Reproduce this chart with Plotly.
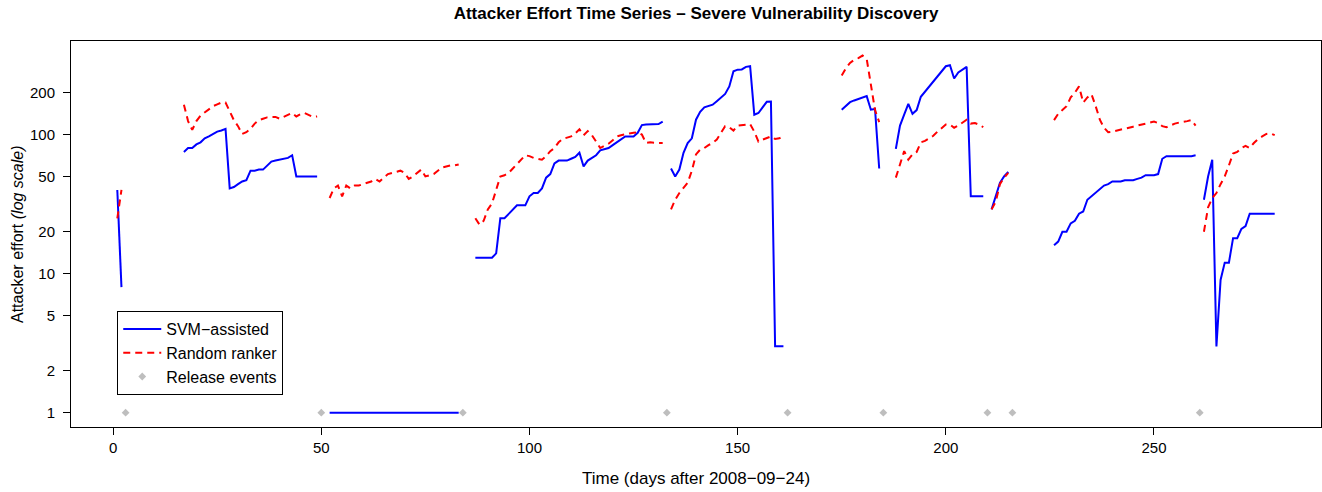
import plotly.graph_objs as go

# attacker effort per day, one list per contiguous run of days
svm_starts = [1, 17, 52, 87, 134, 175, 188, 211, 226, 262]
svm_values = [
    [40, 8],
    [75, 80, 80, 85, 88, 94, 97, 101, 105, 107, 110, 41, 42, 44, 46, 47, 55, 55, 56, 56,
     60, 64, 65, 66, 67, 68, 71, 50, 50, 50, 50, 50, 50],
    [1, 1, 1, 1, 1, 1, 1, 1, 1, 1, 1, 1, 1, 1, 1, 1, 1, 1, 1, 1, 1, 1, 1, 1, 1, 1, 1, 1,
     1, 1, 1, 1],
    [13, 13, 13, 13, 13, 14, 25, 25, 27, 29, 31, 31, 31, 36, 38, 38, 41, 49, 52, 62, 65,
     65, 65, 67, 69, 74, 59, 65, 68, 71, 77, 79, 80, 84, 88, 93, 97, 97, 97, 103, 117,
     118, 118, 119, 119, 124],
    [57, 50, 56, 74, 87, 94, 128, 146, 157, 161, 164, 174, 184, 196, 222, 285, 293, 294,
     307, 310, 139, 143, 157, 172, 173, 3, 3, 3],
    [151, 161, 171, 176, 181, 185, 189, 151, 153, 57],
    [79, 116, 139, 166, 141, 150, 187, 203, 220, 241, 263, 285, 310, 315, 253, 280, 295,
     307, 36, 36, 36, 36],
    [29, 36, 45, 50, 54],
    [16, 17, 20, 20, 23, 24, 27, 28, 34, 36, 38, 40, 43, 44, 46, 46, 46, 47, 47, 47, 48,
     49, 51, 51, 51, 52, 67, 70, 70, 70, 70, 70, 70, 70, 71],
    [34, 50, 66, 3, 9, 12, 12, 18, 18, 21, 22, 27, 27, 27, 27, 27, 27, 27],
]

rnd_starts = [1, 17, 52, 87, 134, 175, 188, 211, 226, 262]
rnd_values = [
    [25, 40],
    [164, 125, 108, 125, 137, 145, 152, 160, 165, 170, 170, 145, 127, 115, 101, 104, 110,
     120, 127, 130, 133, 134, 134, 130, 134, 138, 143, 135, 140, 143, 138, 134, 135],
    [35, 41, 43, 36, 43, 41, 43, 43, 44, 45, 46, 48, 46, 49, 52, 53, 54, 55, 53, 48, 50,
     53, 56, 50, 51, 52, 55, 58, 59, 60, 60, 61],
    [25, 22.5, 24, 29, 32, 40, 50, 51, 53, 57, 61, 66, 71, 70, 68, 67, 66, 70, 76, 80, 88,
     93, 95, 97, 102, 109, 99, 106, 99, 88, 80, 83, 86, 91, 97, 99, 101, 102, 103, 104,
     100, 87, 88, 87, 87, 87],
    [29, 34, 38, 41, 45, 55, 72, 78, 80, 84, 87, 92, 103, 115, 113, 107, 116, 117, 118,
     119, 105, 89, 92, 95, 97, 93, 94, 97],
    [266, 300, 328, 345, 355, 370, 350, 235, 150, 123],
    [49, 61, 76, 66, 72, 75, 88, 90, 94, 98, 105, 112, 118, 118, 112, 116, 122, 128, 120,
     121, 118, 113],
    [29, 33, 44, 49, 53],
    [127, 141, 150, 160, 185, 200, 222, 170, 185, 195, 160, 128, 112, 104, 105, 107, 109,
     110, 112, 114, 116, 118, 120, 122, 124, 121, 115, 113, 117, 120, 122, 123, 125, 127,
     116],
    [20, 30, 35, 38, 44, 50, 60, 73, 75, 80, 83, 80, 87, 93, 97, 101, 102, 99],
]

release_days = [3, 50, 84, 133, 162, 185, 210, 216, 261]
release_level = [1, 1, 1, 1, 1, 1, 1, 1, 1]

y_ticks = [1, 2, 5, 10, 20, 50, 100, 200]
x_ticks = [0, 50, 100, 150, 200, 250]


def join_runs(starts, runs):
    """Flatten runs of daily values into x/y with gaps between runs."""
    xs, ys = [], []
    for start, vals in zip(starts, runs):
        if xs:
            xs.append(None)
            ys.append(None)
        xs.extend(range(start, start + len(vals)))
        ys.extend(vals)
    return xs, ys


svm_x, svm_y = join_runs(svm_starts, svm_values)
rnd_x, rnd_y = join_runs(rnd_starts, rnd_values)

FONT = "Liberation Sans, Arial, Helvetica, sans-serif"
W, H = 1322, 492

fig = go.Figure()

fig.add_trace(
    go.Scatter(
        x=svm_x, y=svm_y, mode="lines", name="SVM\u2212assisted",
        line=dict(color="#0000FF", width=2),
    )
)
fig.add_trace(
    go.Scatter(
        x=rnd_x, y=rnd_y, mode="lines", name="Random ranker",
        line=dict(color="#FF0000", width=2, dash="7px,5px"),
    )
)
fig.add_trace(
    go.Scatter(
        x=release_days, y=release_level, mode="markers", name="Release events",
        marker=dict(symbol="diamond", color="#BEBEBE", size=6),
    )
)

fig.update_layout(
    width=W,
    height=H,
    autosize=False,
    margin=dict(l=71, r=1, t=41, b=65, autoexpand=False),
    paper_bgcolor="white",
    plot_bgcolor="white",
    font=dict(family=FONT, size=15, color="black"),
    title=dict(
        text="<b>Attacker Effort Time Series \u2013 Severe Vulnerability Discovery</b>",
        font=dict(family=FONT, size=17, color="black"),
        x=0.5, xref="paper", xanchor="center",
        y=1 - 13 / H, yref="container", yanchor="middle",
    ),
    xaxis=dict(
        range=[-10.12, 290.12],
        tickvals=x_ticks,
        ticks="outside", ticklen=7, tickcolor="black",
        showline=True, linecolor="black", linewidth=1, mirror=True,
        showgrid=False, zeroline=False, automargin=False,
        tickfont=dict(size=15),
    ),
    yaxis=dict(
        type="log",
        range=[-0.1028, 2.673],
        tickvals=y_ticks,
        ticktext=[str(v) for v in y_ticks],
        ticks="outside", ticklen=7, tickcolor="black",
        ticklabelstandoff=5,
        showline=True, linecolor="black", linewidth=1, mirror=True,
        showgrid=False, zeroline=False, automargin=False,
        tickfont=dict(size=15),
    ),
    legend=dict(
        x=0.037, y=0.3005, xanchor="left", yanchor="top",
        bordercolor="black", borderwidth=1, bgcolor="white",
        font=dict(family=FONT, size=16),
        tracegroupgap=0,
        itemwidth=38,
    ),
    annotations=[
        dict(
            text="Time (days after 2008\u221209\u221224)",
            x=0.5, xref="paper", y=0, yref="paper",
            xanchor="center", yanchor="middle", yshift=-51,
            showarrow=False, font=dict(family=FONT, size=17),
        ),
        dict(
            text="Attacker effort <i>(log scale)</i>",
            x=0, xref="paper", y=0.5, yref="paper",
            xanchor="center", yanchor="middle", xshift=-54, textangle=-90,
            showarrow=False, font=dict(family=FONT, size=16),
        ),
    ],
)

# drop the default 8px body margin so the figure fills the window exactly
fig.write_html(
    "out.html",
    config={"displayModeBar": False},
    post_script="document.body.style.margin = '0px';",
)
